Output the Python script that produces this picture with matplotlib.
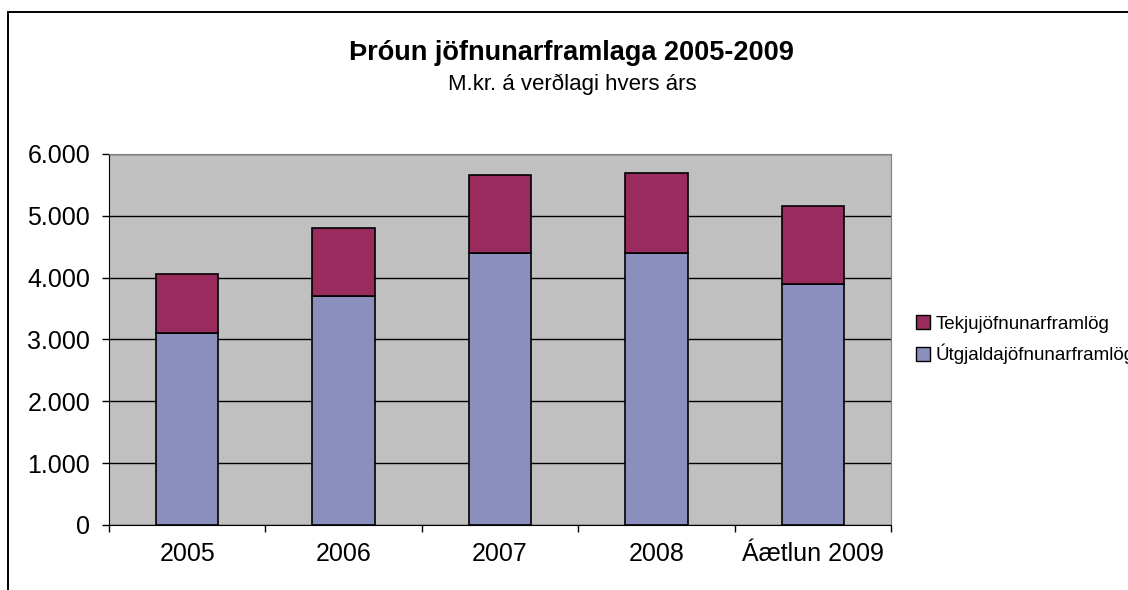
import matplotlib
matplotlib.use("Agg")
import numpy as np
from matplotlib import pyplot as plt
from matplotlib.patches import Rectangle, Patch
from matplotlib.ticker import FuncFormatter

categories = ["2005", "2006", "2007", "2008", "Áætlun 2009"]
utgjalda = [3110, 3700, 4395, 4400, 3895]
tekju = [950, 1095, 1270, 1295, 1265]

col_utgj = "#8A8FBE"
col_tekju = "#992B5F"

plt.rcParams['font.family'] = ['Liberation Sans', 'DejaVu Sans']

fig = plt.figure(figsize=(11.28, 5.9), dpi=100)
ax = fig.add_axes([0.0966, 0.1102, 0.6933, 0.6288])
ax.set_facecolor("#C0C0C0")

x = np.arange(len(categories))
w = 0.40
ax.bar(x, utgjalda, w, color=col_utgj, edgecolor="black", linewidth=1.2, zorder=3)
ax.bar(x, tekju, w, bottom=utgjalda, color=col_tekju, edgecolor="black", linewidth=1.2, zorder=3)

ax.set_xlim(-0.5, len(categories) - 0.5)
ax.set_ylim(0, 6000)
ax.set_yticks(np.arange(0, 6001, 1000))
ax.yaxis.set_major_formatter(FuncFormatter(lambda v, p: f"{int(v):,}".replace(",", ".")))
ax.grid(axis="y", color="black", linewidth=1, zorder=1)
ax.set_axisbelow(True)

ax.set_xticks(x)
ax.set_xticklabels(categories, fontsize=18)
ax.tick_params(axis="x", length=0, pad=12)
ax.set_xticks(np.arange(-0.5, len(categories)), minor=True)
ax.tick_params(axis="x", which="minor", length=5, width=1, color="black")
ax.tick_params(axis="y", labelsize=18, length=5, width=1, color="black", pad=8.5)

for s in ["top", "right"]:
    ax.spines[s].set_color("#808080")
for s in ["left", "bottom"]:
    ax.spines[s].set_color("black")

fig.text(0.507, 0.8983, "Þróun jöfnunarframlaga 2005-2009", ha="center", va="baseline",
         fontsize=19.5, fontweight="bold")
fig.text(0.507, 0.8475, "M.kr. á verðlagi hvers árs", ha="center", va="baseline", fontsize=16)

handles = [Patch(facecolor=col_tekju, edgecolor="black", label="Tekjujöfnunarframlög"),
           Patch(facecolor=col_utgj, edgecolor="black", label="Útgjaldajöfnunarframlög")]
fig.legend(handles=handles, loc="center left", bbox_to_anchor=(0.797, 0.424), frameon=False,
           fontsize=13.5, handlelength=0.75, handleheight=0.75, handletextpad=0.3, labelspacing=0.6)

fig.patches.append(Rectangle((0.0071, -0.1), 1.1, 1.0797, transform=fig.transFigure,
                             fill=False, edgecolor="black", linewidth=1.4))

fig.savefig("out.png", dpi=100)
